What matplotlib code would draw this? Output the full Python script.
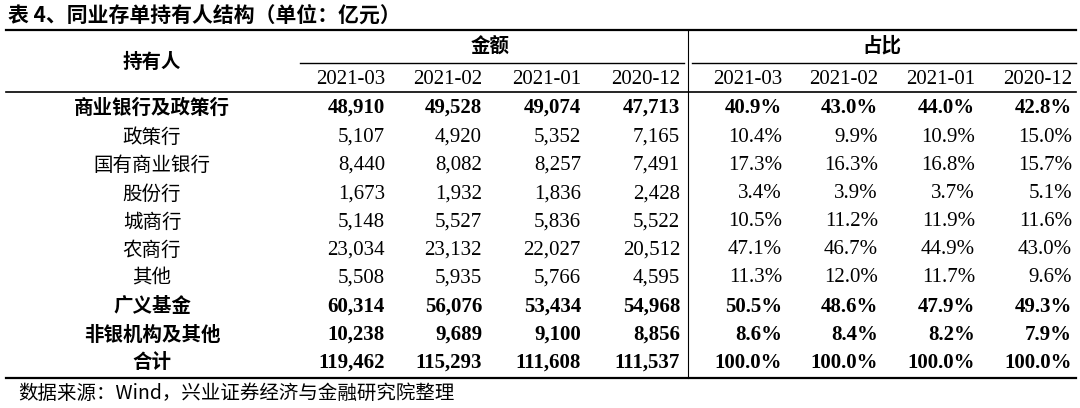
import matplotlib.pyplot as plt

holders = ["商业银行及政策行", "政策行", "国有商业银行", "股份行", "城商行",
           "农商行", "其他", "广义基金", "非银机构及其他", "合计"]
bold_rows = [True, False, False, False, False, False, False, True, True, True]
months = ["2021-03", "2021-02", "2021-01", "2020-12"]
amount = [
    [48910, 49528, 49074, 47713],
    [5107, 4920, 5352, 7165],
    [8440, 8082, 8257, 7491],
    [1673, 1932, 1836, 2428],
    [5148, 5527, 5836, 5522],
    [23034, 23132, 22027, 20512],
    [5508, 5935, 5766, 4595],
    [60314, 56076, 53434, 54968],
    [10238, 9689, 9100, 8856],
    [119462, 115293, 111608, 111537],
]
share = [
    [40.9, 43.0, 44.0, 42.8],
    [10.4, 9.9, 10.9, 15.0],
    [17.3, 16.3, 16.8, 15.7],
    [3.4, 3.9, 3.7, 5.1],
    [10.5, 11.2, 11.9, 11.6],
    [47.1, 46.7, 44.9, 43.0],
    [11.3, 12.0, 11.7, 9.6],
    [50.5, 48.6, 47.9, 49.3],
    [8.6, 8.4, 8.2, 7.9],
    [100.0, 100.0, 100.0, 100.0],
]

W, H = 1080, 408
fig = plt.figure(figsize=(W / 100, H / 100), dpi=100)
ax = fig.add_axes([0, 0, 1, 1])
ax.set_xlim(0, W)
ax.set_ylim(H, 0)
ax.axis("off")

cjk = "Noto Sans CJK SC"
serif = "Liberation Serif"

ax.text(8, 15, "表 4、同业存单持有人结构（单位：亿元）", fontfamily=cjk,
        fontweight="bold", fontsize=15, va="center", ha="left")

# rules
ax.plot([6, 1076], [30, 30], color="black", lw=1.6)
ax.plot([6, 1076], [92, 92], color="black", lw=1.2)
ax.plot([6, 1076], [378, 378], color="black", lw=1.6)
ax.plot([300, 684], [63, 63], color="black", lw=1.0)
ax.plot([692, 1076], [63, 63], color="black", lw=1.0)
ax.plot([688, 688], [30, 378], color="black", lw=0.8)

ax.text(152, 62, "持有人", fontfamily=cjk, fontweight="bold", fontsize=14,
        ha="center", va="center")
ax.text(490, 46, "金额", fontfamily=cjk, fontweight="bold", fontsize=14,
        ha="center", va="center")
ax.text(882, 46, "占比", fontfamily=cjk, fontweight="bold", fontsize=14,
        ha="center", va="center")

amt_right = [385, 482, 581, 680]
pct_right = [782, 878, 975, 1072]
for j, m in enumerate(months):
    ax.text(amt_right[j], 79, m, fontfamily=serif, fontsize=15, ha="right", va="center")
    ax.text(pct_right[j], 79, m, fontfamily=serif, fontsize=15, ha="right", va="center")

row_y = [108, 137, 165, 194, 222, 250, 278, 307, 335, 363]
for i, name in enumerate(holders):
    y = row_y[i]
    w = "bold" if bold_rows[i] else "normal"
    ax.text(152, y, name, fontfamily=cjk, fontweight=w, fontsize=14,
            ha="center", va="center")
    for j in range(4):
        ax.text(amt_right[j], y, f"{amount[i][j]:,}", fontfamily=serif,
                fontweight=w, fontsize=15, ha="right", va="center")
        ax.text(pct_right[j], y, f"{share[i][j]:.1f}%", fontfamily=serif,
                fontweight=w, fontsize=15, ha="right", va="center")

ax.text(18, 393, "数据来源：Wind，兴业证券经济与金融研究院整理", fontfamily=cjk,
        fontsize=14, ha="left", va="center")

fig.savefig("out.png", dpi=100)
